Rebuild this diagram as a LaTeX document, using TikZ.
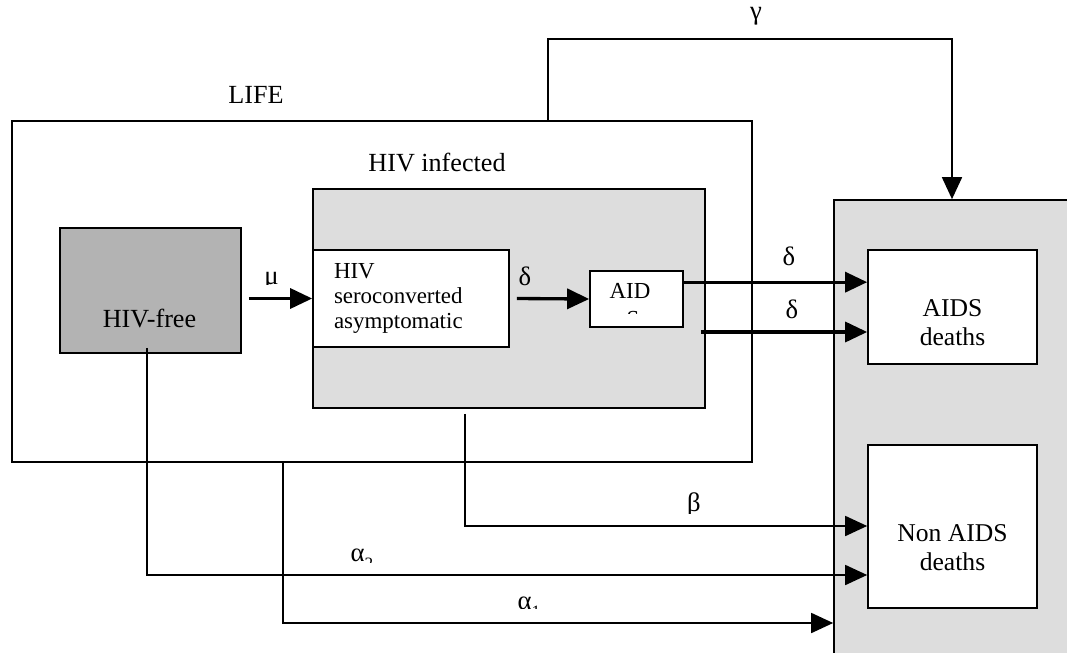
\documentclass[tikz,border=0pt]{standalone}
\usepackage{fontspec}
\setmainfont{Liberation Serif}
\usetikzlibrary{arrows.meta,calc}
\definecolor{lightg}{HTML}{DDDDDD}
\definecolor{darkg}{HTML}{B3B3B3}
\begin{document}
\begin{tikzpicture}[x=0.75pt,y=-0.75pt,
  box/.style={draw=black,line width=1.25pt,inner sep=0pt,anchor=center},
  lbl/.style={inner sep=0pt,anchor=base,font=\fontsize{19.6}{22}\selectfont},
  grk/.style={inner sep=0pt,anchor=base,font=\fontsize{20}{22}\selectfont},
  bigarrow/.style={line width=2.5pt,-{Triangle[length=16.5pt,width=15pt]}},
  thinarrow/.style={line width=1.3pt,-{Triangle[length=16.5pt,width=15pt]}},
  thinline/.style={line width=1.3pt}]
\useasboundingbox (0,0) rectangle (1067,653);
% boxes
\node[box,fill=white,minimum width=555pt,minimum height=255.75pt] (life) at (382,291.5) {};
\node[box,fill=darkg,minimum width=135.75pt,minimum height=93.75pt] (hivfree) at (150.5,290.5) {};
\node[box,fill=lightg,minimum width=294pt,minimum height=164.25pt] (infected) at (509,298.5) {};
\node[box,fill=white,minimum width=147pt,minimum height=72.75pt,text width=115.5pt,inner xsep=15.75pt,align=left,font=\fontsize{17.2}{18.75}\selectfont] (sero) at (411,298.5) {HIV\\seroconverted\\asymptomatic};
\node[box,fill=white,minimum width=69.75pt,minimum height=42pt] (aid) at (636.5,299) {};
\node[box,fill=lightg,minimum width=192pt,minimum height=360pt] (dead) at (962,440) {};
\node[box,fill=white,minimum width=126.75pt,minimum height=85.5pt] (aidsd) at (952.5,307) {};
\node[box,fill=white,minimum width=126.75pt,minimum height=122.25pt] (nonaidsd) at (952.5,526.5) {};
% texts
\node[lbl] (lifetxt) at (256,103) {LIFE};
\node[lbl] (inftxt) at (437,171) {HIV infected};
\node[lbl] (freetxt) at (149.5,327) {HIV-free};
\node[inner sep=0pt,align=center,font=\fontsize{19.2}{21.75}\selectfont] (aidsdtxt) at (952.5,323) {AIDS\\deaths};
\node[inner sep=0pt,align=center,font=\fontsize{19.2}{21.75}\selectfont] (nonaidsdtxt) at (952.5,548) {Non AIDS\\deaths};
\node[inner sep=0pt,anchor=base,font=\fontsize{17.2}{18}\selectfont] (aidtxt) at (630,298) {AID};
\begin{scope}
  \clip (591,272) rectangle (682,313);
  \node[inner sep=0pt,anchor=base,font=\fontsize{17.2}{18}\selectfont] (aidS) at (633,326) {S};
\end{scope}
% connectors
\draw[bigarrow] ($(hivfree.east |- sero.west)+(7,0)$) coordinate (u0) -- (sero.west);
\draw[bigarrow] ($(sero.east)+(7,0)$) coordinate (d0) -- (aid.west);
\draw[bigarrow] ($(aid.north east)+(0,12)$) coordinate (e0) -- (e0 -| aidsd.west);
\draw[bigarrow] ($(infected.east)+(-5,33.5)$) coordinate (e1) -- (e1 -| aidsd.west);
\coordinate (g0) at ($(life.north west)+(537,0)$);
\draw[thinarrow] (g0) -- ++(0,-81) -| ($(dead.north)+(-10,0)$);
\draw[thinarrow] ($(infected.south)+(-44,5)$) coordinate (b0) |- ($(nonaidsd.west)+(0,-0.5)$);
\draw[thinarrow] ($(hivfree.south)+(-3.5,-6)$) coordinate (a20) |- ($(nonaidsd.west)+(0,48.5)$);
\draw[thinarrow] ($(life.south)+(-99,0)$) coordinate (a10) |- ($(dead.west)+(0,183)$);
% greek labels
\node[grk] (gamma) at (756,19) {γ};
\begin{scope}
  \clip (255,260) rectangle (290,284);
  \node[grk] (mu) at (271.5,284) {μ};
\end{scope}
\node[grk] (delta1) at (525,285) {δ};
\node[grk] (delta2) at (789,265) {δ};
\node[grk] (delta3) at (792,318) {δ};
\begin{scope}
  \clip (680,485) rectangle (710,513);
  \node[grk] (beta) at (694,511) {β};
\end{scope}
\begin{scope}
  \clip (340,540) rectangle (390,562);
  \node[grk] (alpha2) at (362,561) {α\raisebox{-0.3em}{\fontsize{13}{13}\selectfont 2}};
\end{scope}
\begin{scope}
  \clip (510,588) rectangle (545,608);
  \node[grk] (alpha1) at (529,609) {α\raisebox{-0.3em}{\fontsize{13}{13}\selectfont 1}};
\end{scope}
\end{tikzpicture}
\end{document}
